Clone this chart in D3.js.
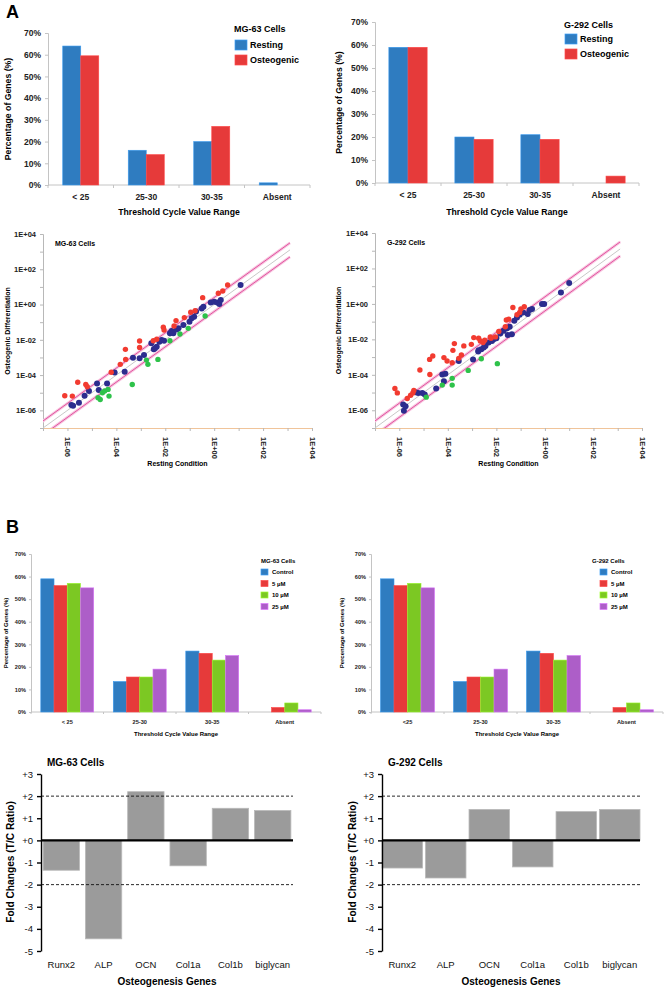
<!DOCTYPE html>
<html>
<head>
<meta charset="utf-8">
<script src="https://cdn.jsdelivr.net/npm/d3@7"></script>
<style>
  body { margin: 0; background: #fff; }
  svg { display: block; font-family: "Liberation Sans", Arial, sans-serif; }
</style>
</head>
<body>
<svg id="fig" width="664" height="989"></svg>
<script>
// ---------- data ----------
const thresholdCats = ["< 25", "25-30", "30-35", "Absent"];
const thresholdCatsB = ["<25", "25-30", "30-35", "Absent"];
const pctTicks = [0, 10, 20, 30, 40, 50, 60, 70];

const cellSeries = ["Resting", "Osteogenic"];
const mgResting = [64, 16, 20, 1];
const mgOsteogenic = [59.5, 14, 27, 0];
const gResting = [59, 20, 21, 0];
const gOsteogenic = [59, 19, 19, 3];

const doseSeries = ["Control", "5 µM", "10 µM", "25 µM"];
const mgControl = [59, 13.5, 27, 0];
const mg5uM = [56, 15.5, 26, 2];
const mg10uM = [57, 15.5, 23, 4];
const mg25uM = [55, 19, 25, 1];
const gControl = [59, 13.5, 27, 0];
const g5uM = [56, 15.5, 26, 2];
const g10uM = [57, 15.5, 23, 4];
const g25uM = [55, 19, 25, 1];

// scatter points, [log10 resting, log10 osteogenic]
const mgUp = [[-6.11,-5.17],[-5.80,-5.19],[-5.58,-4.41],[-5.25,-4.53],[-5.19,-4.66],[-4.21,-3.84],
  [-3.84,-3.39],[-3.63,-2.54],[-3.62,-3.11],[-3.05,-2.07],[-3.05,-2.43],[-2.49,-2.05],[-2.35,-1.97],
  [-2.08,-1.29],[-2.05,-1.44],[-1.64,-1.22],[-1.56,-0.91],[-1.22,-0.74],[-0.96,-0.44],[-0.78,-0.35],
  [-0.47,0.39],[0.17,0.64],[0.35,0.77],[0.55,1.11]];
const mgMid = [[-5.84,-5.70],[-5.77,-5.74],[-5.53,-5.57],[-5.30,-5.17],[-5.12,-4.90],[-4.79,-4.47],
  [-4.72,-4.85],[-4.38,-4.47],[-4.07,-3.86],[-3.66,-3.81],[-3.32,-3.01],[-3.05,-3.05],[-2.87,-2.86],
  [-2.57,-2.20],[-2.47,-2.54],[-2.42,-2.48],[-2.35,-2.39],[-2.24,-2.11],[-2.15,-2.01],[-2.05,-2.05],
  [-1.81,-1.63],[-1.74,-1.50],[-1.67,-1.63],[-1.53,-1.41],[-1.46,-1.35],[-1.26,-1.16],[-1.01,-0.97],
  [-0.92,-0.78],[-0.82,-0.69],[-0.74,-0.40],[-0.51,-0.22],[-0.44,-0.12],[-0.14,0.11],[0.0,0.16],
  [0.13,0.11],[0.21,0.03],[0.27,0.26],[1.08,1.11]];
const mgDown = [[-4.75,-5.28],[-4.66,-5.38],[-4.57,-5.00],[-4.48,-4.90],[-4.34,-4.81],[-4.30,-5.19],
  [-3.35,-4.53],[-2.77,-3.15],[-2.71,-3.39],[-2.30,-3.11],[-1.81,-2.05],[-1.40,-1.67],[-1.06,-1.35],
  [-0.37,-0.65]];
const gUp = [[-6.18,-4.77],[-6.08,-5.02],[-5.67,-5.34],[-5.53,-5.15],[-5.44,-5.02],[-5.40,-4.88],
  [-5.15,-3.73],[-4.74,-3.98],[-4.75,-3.13],[-4.62,-2.94],[-4.16,-3.03],[-4.03,-3.22],[-3.82,-3.32],
  [-3.73,-2.24],[-3.79,-2.62],[-3.55,-3.07],[-3.44,-2.88],[-3.34,-2.37],[-3.03,-2.28],[-2.93,-1.90],
  [-2.73,-1.94],[-2.48,-2.05],[-2.25,-1.86],[-2.66,-2.09],[-2.55,-2.18],[-2.22,-1.94],[-2.04,-1.86],
  [-1.90,-1.56],[-1.63,-1.29],[-1.59,-0.91],[-1.49,-0.86],[-1.32,-0.20],[-1.15,-0.61],[-1.04,-0.48],
  [-0.99,-0.29],[-0.85,-0.16]];
const gMid = [[-5.84,-5.68],[-5.81,-6.02],[-5.74,-5.77],[-5.33,-4.98],[-5.22,-5.02],[-5.05,-5.02],
  [-4.95,-5.11],[-4.48,-4.77],[-4.23,-3.98],[-4.10,-3.94],[-4.16,-4.36],[-3.55,-3.22],[-2.96,-3.13],
  [-2.75,-2.69],[-2.62,-2.56],[-2.52,-2.46],[-2.32,-2.18],[-2.18,-2.09],[-2.11,-1.99],[-2.73,-2.62],
  [-2.45,-2.37],[-2.00,-1.94],[-1.84,-1.67],[-1.70,-1.52],[-1.56,-1.37],[-1.45,-1.29],[-1.36,-1.71],
  [-1.53,-1.75],[-1.26,-0.95],[-1.15,-0.76],[-1.04,-0.61],[-0.90,-0.48],[-0.71,-0.57],[-0.63,-0.35],
  [-0.53,-0.29],[-0.12,-0.01],[-0.03,-0.01],[0.66,0.65],[1.00,1.18]];
const gDown = [[-4.89,-5.26],[-4.23,-4.58],[-3.82,-4.58],[-3.82,-4.20],[-3.16,-3.75],[-2.62,-3.09],
  [-1.96,-3.37]];
const scatterTickExp = [-6, -4, -2, 0, 2, 4];
const foldBand = 2.5;

const genes = ["Runx2", "ALP", "OCN", "Col1a", "Col1b", "biglycan"];
const mgFold = [-1.35, -4.45, 2.2, -1.15, 1.45, 1.35];
const gFold = [-1.25, -1.7, 1.4, -1.2, 1.3, 1.4];
const foldTicks = [3, 2, 1, 0, -1, -2, -3, -4, -5];

// ---------- drawing ----------
const svg = d3.select("#fig");
const blue = "#2f7cc0", red = "#e63a3a", green = "#7cc823", purple = "#ad5ec8";

svg.append("text").attr("x", 6).attr("y", 18).attr("font-size", 18).attr("font-weight", "bold").text("A");
svg.append("text").attr("x", 6).attr("y", 533).attr("font-size", 18).attr("font-weight", "bold").text("B");

function barPanel(o) {
  const g = svg.append("g");
  const x = d3.scaleBand().domain(o.cats).range([o.x0, o.x1]).paddingInner(o.pad).paddingOuter(o.pad / 2);
  const xs = d3.scaleBand().domain(o.series).range([0, x.bandwidth()]);
  const y = d3.scaleLinear().domain([0, 70]).range([o.yBot, o.yTop]);

  const ya = g.append("g").attr("transform", `translate(${o.x0},0)`)
    .call(d3.axisLeft(y).tickValues(pctTicks).tickFormat(d => d + "%").tickSize(o.tick).tickPadding(o.tpad));
  ya.select(".domain").attr("stroke", "#c4c4c4");
  ya.selectAll(".tick line").attr("stroke", "#c4c4c4");
  ya.selectAll("text").attr("font-size", o.fs).attr("font-weight", "bold").attr("fill", "#222")
    .attr("font-family", "Liberation Sans, Arial, sans-serif");

  g.append("line").attr("x1", o.x0).attr("x2", o.x1).attr("y1", o.yBot).attr("y2", o.yBot).attr("stroke", "#c4c4c4");
  d3.range(o.cats.length + 1).forEach(i => {
    const xx = o.x0 + i * x.step();
    g.append("line").attr("x1", xx).attr("x2", xx).attr("y1", o.yBot).attr("y2", o.yBot + o.tick).attr("stroke", "#c4c4c4");
  });

  o.series.forEach((s, si) => {
    g.append("g").selectAll("rect").data(o.values[si]).join("rect")
      .attr("x", (d, i) => x(o.cats[i]) + xs(s))
      .attr("width", xs.bandwidth())
      .attr("y", d => y(d))
      .attr("height", d => o.yBot - y(d))
      .attr("fill", o.colors[si])
      .attr("stroke", d3.color(o.colors[si]).brighter(0.6))
      .attr("stroke-width", 0.6);
  });

  g.selectAll(".cat").data(o.cats).join("text")
    .attr("x", d => x(d) + x.bandwidth() / 2).attr("y", o.catY)
    .attr("text-anchor", "middle").attr("font-size", o.fs).attr("font-weight", "bold").attr("fill", "#222")
    .text(d => d);

  g.append("text").attr("x", (o.x0 + o.x1) / 2).attr("y", o.titleY).attr("text-anchor", "middle")
    .attr("font-size", o.tfs).attr("font-weight", "bold").text("Threshold Cycle Value Range");
  g.append("text").attr("transform", `translate(${o.yTitleX},${(o.yTop + o.yBot) / 2}) rotate(-90)`)
    .attr("text-anchor", "middle").attr("font-size", o.tfs).attr("font-weight", "bold").text("Percentage of Genes (%)");

  const L = o.legend;
  g.append("text").attr("x", L.x).attr("y", L.titleY).attr("font-size", L.fs).attr("font-weight", "bold").text(L.title);
  o.series.forEach((s, si) => {
    const top = L.top + si * L.gap;
    g.append("rect").attr("x", L.sx).attr("y", top).attr("width", L.sw).attr("height", L.sh)
      .attr("fill", o.colors[si]).attr("stroke", d3.color(o.colors[si]).brighter(0.7)).attr("stroke-width", 0.7);
    g.append("text").attr("x", L.tx).attr("y", top + L.sh / 2).attr("dy", "0.35em")
      .attr("font-size", L.fs2).attr("font-weight", "bold").text(s);
  });
}

function expLabel(e) {
  return "1E" + (e < 0 ? "-" : "+") + String(Math.abs(e)).padStart(2, "0");
}

function scatterPanel(o) {
  const g = svg.append("g");
  const x = d3.scaleLog().domain([1e-7, 1e4]).range([o.x0, o.x1]);
  const y = d3.scaleLog().domain([1e-7, 1e4]).range([o.yBot, o.yTop]);
  const decades = d3.range(-7, 5).map(e => Math.pow(10, e));
  const lab = v => {
    const e = Math.round(Math.log10(v));
    return scatterTickExp.includes(e) ? expLabel(e) : "";
  };

  const ya = g.append("g").attr("transform", `translate(${o.x0},0)`)
    .call(d3.axisLeft(y).tickValues(decades).tickFormat(lab).tickSize(3).tickPadding(4));
  ya.select(".domain").attr("stroke", "#b8b8b8");
  ya.selectAll(".tick line").attr("stroke", "#b8b8b8");
  ya.selectAll("text").attr("font-size", 7.5).attr("font-weight", "bold").attr("fill", "#222")
    .attr("font-family", "Liberation Sans, Arial, sans-serif");

  const xa = g.append("g").attr("transform", `translate(0,${o.yBot})`)
    .call(d3.axisBottom(x).tickValues(decades).tickFormat(lab).tickSize(3).tickPadding(4));
  xa.select(".domain").attr("stroke", "#f0c49a");
  xa.selectAll(".tick line").attr("stroke", "#b8b8b8");
  xa.selectAll("text").attr("font-size", 7.5).attr("font-weight", "bold").attr("fill", "#222")
    .attr("font-family", "Liberation Sans, Arial, sans-serif")
    .attr("transform", "rotate(90)").attr("text-anchor", "start")
    .attr("x", 9).attr("y", 0).attr("dy", "0.35em");

  const clipId = "clip" + o.id;
  g.append("clipPath").attr("id", clipId).append("rect")
    .attr("x", o.x0).attr("y", o.yTop).attr("width", o.x1 - o.x0).attr("height", o.yBot - o.yTop);
  const lines = g.append("g").attr("clip-path", `url(#${clipId})`);
  const xEnd = Math.pow(10, 3.1);
  const guide = (k, stroke, w) => lines.append("line")
    .attr("x1", x(1e-8)).attr("y1", y(1e-8 * k)).attr("x2", x(xEnd)).attr("y2", y(xEnd * k))
    .attr("stroke", stroke).attr("stroke-width", w);
  [foldBand, 1 / foldBand].forEach(k => guide(k, "#f7c6e0", 3));
  guide(1, "#c8c8c8", 1);
  [foldBand, 1 / foldBand].forEach(k => guide(k, "#e2549f", 1));

  const dots = (arr, col, r) => g.append("g").selectAll("circle").data(arr).join("circle")
    .attr("cx", d => x(Math.pow(10, d[0])))
    .attr("cy", d => y(Math.pow(10, d[1])))
    .attr("r", r).attr("fill", col);
  dots(o.mid, "#2c2c8e", 3);
  dots(o.up, "#f23b30", 2.7);
  dots(o.down, "#2ec24a", 2.7);

  g.append("text").attr("x", o.x0 + 12).attr("y", o.yTop + 12).attr("font-size", 7).attr("font-weight", "bold").text(o.title);
  g.append("text").attr("x", (o.x0 + o.x1) / 2).attr("y", o.yBot + 38).attr("text-anchor", "middle")
    .attr("font-size", 7).attr("font-weight", "bold").text("Resting Condition");
  g.append("text").attr("transform", `translate(${o.yTitleX},${(o.yTop + o.yBot) / 2}) rotate(-90)`)
    .attr("text-anchor", "middle").attr("font-size", 7).attr("font-weight", "bold").text("Osteogenic Differentiation");
}

function foldPanel(o) {
  const g = svg.append("g");
  const x = d3.scaleBand().domain(genes).range([o.x0, o.x1]).paddingInner(o.pad).paddingOuter(o.outer);
  const y = d3.scaleLinear().domain([-5, 3]).range([951, 774]);

  g.selectAll("rect").data(o.values).join("rect")
    .attr("x", (d, i) => x(genes[i]))
    .attr("width", x.bandwidth())
    .attr("y", d => y(Math.max(0, d)))
    .attr("height", d => Math.abs(y(d) - y(0)))
    .attr("fill", "#9b9b9b").attr("stroke", "#b9b9b9").attr("stroke-width", 0.8);

  [2, -2].forEach(v => g.append("line").attr("x1", o.x0).attr("x2", o.x1).attr("y1", y(v)).attr("y2", y(v))
    .attr("stroke", "#111").attr("stroke-width", 0.9).attr("stroke-dasharray", "3,2"));
  g.append("line").attr("x1", o.x0).attr("x2", o.x1).attr("y1", y(0)).attr("y2", y(0))
    .attr("stroke", "#000").attr("stroke-width", 2.4);

  const ya = g.append("g").attr("transform", `translate(${o.x0},0)`)
    .call(d3.axisLeft(y).tickValues(foldTicks).tickFormat(d => (d >= 0 ? "+" : "") + d).tickSize(4).tickPadding(4).tickSizeOuter(0));
  ya.select(".domain").attr("stroke", "#000").attr("stroke-width", 1.4);
  ya.selectAll(".tick line").attr("stroke", "#000").attr("stroke-width", 1.4);
  ya.selectAll("text").attr("font-size", 9.5).attr("fill", "#111").attr("font-family", "Liberation Sans, Arial, sans-serif");

  g.selectAll(".gene").data(genes).join("text")
    .attr("x", d => x(d) + x.bandwidth() / 2).attr("y", 968).attr("text-anchor", "middle")
    .attr("font-size", 9.5).attr("fill", "#111").text(d => d);

  g.append("text").attr("x", o.x0 + 6).attr("y", 766).attr("font-size", 10).attr("font-weight", "bold").text(o.title);
  g.append("text").attr("x", (o.x0 + o.x1) / 2).attr("y", 985).attr("text-anchor", "middle")
    .attr("font-size", 10).attr("font-weight", "bold").text("Osteogenesis Genes");
  g.append("text").attr("transform", `translate(${o.yTitleX},862) rotate(-90)`).attr("text-anchor", "middle")
    .attr("font-size", 10.2).attr("font-weight", "bold").text("Fold Changes (T/C Ratio)");
}

// Panel A bars
barPanel({
  cats: thresholdCats, series: cellSeries, values: [mgResting, mgOsteogenic], colors: [blue, red],
  x0: 48, x1: 310, yTop: 33, yBot: 185, pad: 0.45, tick: 3, tpad: 4, fs: 8.5, tfs: 8.7,
  catY: 200, titleY: 215, yTitleX: 11,
  legend: { title: "MG-63 Cells", x: 234, titleY: 32, sx: 235, top: 40, gap: 15, sw: 12, sh: 10, tx: 250, fs: 9, fs2: 9 }
});
barPanel({
  cats: thresholdCats, series: cellSeries, values: [gResting, gOsteogenic], colors: [blue, red],
  x0: 375, x1: 639, yTop: 22, yBot: 183, pad: 0.42, tick: 3, tpad: 4, fs: 8.5, tfs: 8.7,
  catY: 198, titleY: 215, yTitleX: 342,
  legend: { title: "G-292 Cells", x: 564, titleY: 28, sx: 565, top: 34, gap: 15, sw: 12, sh: 10, tx: 580, fs: 9, fs2: 9 }
});

// Panel A scatter
scatterPanel({ id: "mg", title: "MG-63 Cells", up: mgUp, mid: mgMid, down: mgDown,
  x0: 43, x1: 312, yTop: 234, yBot: 428, yTitleX: 10 });
scatterPanel({ id: "g", title: "G-292 Cells", up: gUp, mid: gMid, down: gDown,
  x0: 375, x1: 642, yTop: 233, yBot: 428, yTitleX: 341 });

// Panel B bars
barPanel({
  cats: thresholdCats, series: doseSeries, values: [mgControl, mg5uM, mg10uM, mg25uM], colors: [blue, red, green, purple],
  x0: 31, x1: 321, yTop: 554, yBot: 712, pad: 0.27, tick: 2, tpad: 3, fs: 5.6, tfs: 6,
  catY: 724, titleY: 736, yTitleX: 8,
  legend: { title: "MG-63 Cells", x: 261, titleY: 563, sx: 261, top: 569, gap: 11.5, sw: 7, sh: 6, tx: 272, fs: 6, fs2: 6 }
});
barPanel({
  cats: thresholdCatsB, series: doseSeries, values: [gControl, g5uM, g10uM, g25uM], colors: [blue, red, green, purple],
  x0: 371, x1: 663, yTop: 554, yBot: 712, pad: 0.26, tick: 2, tpad: 3, fs: 5.6, tfs: 6,
  catY: 724, titleY: 736, yTitleX: 344,
  legend: { title: "G-292 Cells", x: 592, titleY: 563, sx: 600, top: 569, gap: 11.5, sw: 7, sh: 6, tx: 611, fs: 6, fs2: 6 }
});

// Panel B fold changes
foldPanel({ title: "MG-63 Cells", values: mgFold, x0: 41, x1: 293, pad: 0.14, outer: 0.05, yTitleX: 14 });
foldPanel({ title: "G-292 Cells", values: gFold, x0: 382, x1: 640, pad: 0.07, outer: 0.0, yTitleX: 356 });
</script>
</body>
</html>
